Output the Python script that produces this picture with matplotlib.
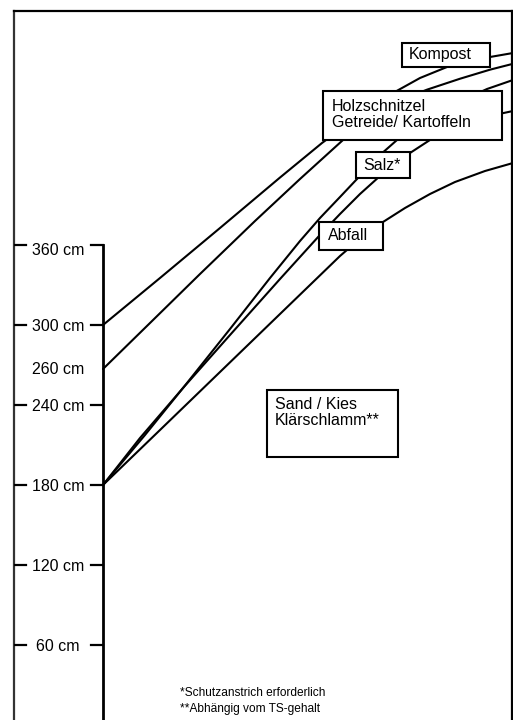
import matplotlib.pyplot as plt
from matplotlib.patches import Rectangle

plt.rcParams['font.family'] = ['Liberation Sans', 'DejaVu Sans']

# height marks on the ruler (cm)
tick_cm = [60, 120, 180, 240, 300, 360]
tick_labels = ['60 cm', '120 cm', '180 cm', '240 cm', '300 cm', '360 cm']

# curves: horizontal distance (arbitrary units) vs. height (cm)
kompost_x = [0, 57, 117, 177, 219, 257, 290, 317, 344, 367, 387, 410]
kompost_y = [300, 335.25, 372.75, 410.6, 436.5, 457.5, 474, 485.25, 493.5, 498, 501, 504]

holz_x = [0, 47, 97, 152, 197, 240, 267, 297, 324, 357, 387, 410]
holz_y = [267, 301.5, 338.25, 378, 409.5, 438.75, 455, 468.5, 476.5, 484.7, 491.5, 495.9]

salz_x = [0, 42, 80, 127, 167, 197, 217, 237, 254, 277, 294, 317, 347, 384, 410]
salz_y = [180, 217.5, 252.75, 297, 335.25, 363, 380.25, 396, 409.5, 427.5, 438.75,
          450.75, 464.25, 477, 483.75]

kies_x = [0, 37, 80, 127, 177, 216, 237, 257, 277, 307, 330, 357, 382, 410]
kies_y = [180, 215.25, 252.75, 292.5, 334.5, 366.75, 383.25, 398.25, 411.75, 429,
          440.25, 450, 456, 460.5]

abfall_x = [0, 57, 117, 177, 237, 259, 280, 302, 327, 352, 382, 410]
abfall_y = [180, 221.25, 264.75, 308.25, 351.75, 366, 377.25, 387.75, 398.25, 407.25,
            415.5, 421.5]

fig = plt.figure(figsize=(5.13, 7.2), dpi=100)
ax = fig.add_axes([14 / 513, 0, 498 / 513, 709 / 720])
ax.set_xlim(-89, 409)
ax.set_ylim(3.75, 535.5)
ax.set_xticks([])
ax.set_yticks([])
ax.spines['bottom'].set_visible(False)
for s in ['left', 'top', 'right']:
    ax.spines[s].set_linewidth(1.6)
    ax.spines[s].set_color('black')
ax.spines['left'].set_color('#333333')

lw = 1.5
for xs, ys in [(kompost_x, kompost_y), (holz_x, holz_y), (salz_x, salz_y),
               (kies_x, kies_y), (abfall_x, abfall_y)]:
    ax.plot(xs, ys, color='black', lw=lw, zorder=2, solid_capstyle='round',
            solid_joinstyle='round')

# ruler
ax.plot([0, 0], [360, 3.75], color='black', lw=2, zorder=3)
for v, lab in zip(tick_cm, tick_labels):
    ax.plot([-89, -77], [v, v], color='black', lw=1.6, zorder=3)
    ax.plot([-12, 0], [v, v], color='black', lw=1.6, zorder=3)
    ax.text(-45, v - (4 if v == 360 else 1), lab, ha='center', va='center', fontsize=11.5)
ax.text(-45, holz_y[0], '260 cm', ha='center', va='center', fontsize=11.5)

# label boxes
boxes = [
    ((299, 493.5), 88, 18, 'Kompost', (306, 502.5)),
    ((220, 438.75), 179, 36.75, 'Holzschnitzel\nGetreide/ Kartoffeln', (229, 458)),
    ((253, 410.25), 54, 19.5, 'Salz*', (260, 420)),
    ((216, 356.25), 64, 21, 'Abfall', (225, 367)),
    ((164, 201), 131, 50.25, 'Sand / Kies\nKlärschlamm**', (172, 234.5)),
]
for (bx, by), w, h, txt, (tx, ty) in boxes:
    ax.add_patch(Rectangle((bx, by), w, h, facecolor='white', edgecolor='black',
                           lw=1.5, zorder=4))
    ax.text(tx, ty, txt, ha='left', va='center', fontsize=11.5, linespacing=1.05, zorder=5)

fig.text(180 / 513, 1 - 693 / 720, '*Schutzanstrich erforderlich', fontsize=8.6,
         ha='left', va='center')
fig.text(180 / 513, 1 - 709 / 720, '**Abhängig vom TS-gehalt', fontsize=8.6,
         ha='left', va='center')

fig.savefig('out.png', dpi=100, facecolor='white')
